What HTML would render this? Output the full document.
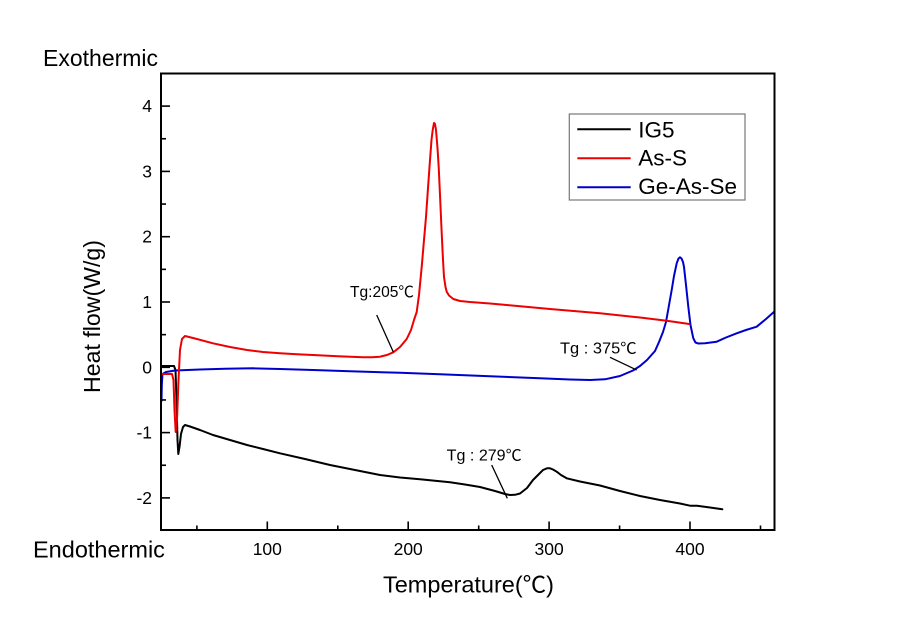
<!DOCTYPE html>
<html><head><meta charset="utf-8"><style>
html,body{margin:0;padding:0;background:#fff;}
svg{display:block;}
text{font-family:"Liberation Sans","Noto Sans CJK SC",sans-serif;fill:#000;}
</style></head><body>
<svg width="900" height="636" viewBox="0 0 900 636" xmlns="http://www.w3.org/2000/svg">
<rect x="0" y="0" width="900" height="636" fill="#fff"/>
<defs><clipPath id="pa"><rect x="161" y="73.5" width="613.5" height="456.5"/></clipPath></defs>

<!-- curves -->
<g clip-path="url(#pa)" fill="none" stroke-width="2" stroke-linejoin="round" stroke-linecap="round">
<polyline stroke="#000" points="161,366 174,366 175.5,370 176.5,400 177.5,440 178.3,454 179.5,447 181,434 183,427 185,425 190,426.5 200,430 213,435 230,440 247,445 263,449 280,453.3 305,459 330,465 355,470 380,475 400,477.5 420,479.3 450,482.3 465,484.5 480,487 495,491 505,494 510,495 515,494.8 520,493.5 527,488 533,480 538,475 543,470 547,468.3 550,468.3 553,469.5 556.7,471.7 561,475 566.7,478.3 580,481.5 600,485.5 620,491 640,496 660,500 680,503.5 690,505.7 697,505.7 710,507.5 722.3,509.3"/>
<polyline stroke="#0000cc" points="161.5,401 161.8,385 162.5,374 166,372 175,370.5 200,369.5 225,368.7 253,368.3 280,369 313,370 350,371.2 400,372.8 440,374.3 490,376.3 540,378.3 570,379.5 590,380 605,379.3 620,376 633,370.5 640,366 647,360 655,351 659,342 663,332 666,322 668.5,308 671.7,290 674,276 676.7,263.3 678.5,258.5 680,257.3 681.5,258.5 683,262 684,267 686,285 688.3,306.7 690.5,325 693.3,338.3 695.5,342.5 698.3,343.5 705,343.2 716.7,341.7 726,337.5 736.7,333.3 746,330 756.7,326.7 766,319 775,311"/>
<polyline stroke="#ee0000" points="161,374 172,374 173.5,380 174.5,410 175.7,432 177,420 178.5,380 180,350 182,339 185,336 195,338.5 213,343.3 230,347 247,350 263,352 280,353.3 297,354.3 313,355 338,356.2 363,357.3 372,357.3 380,356.7 387,355 393.3,352.3 400,347 406.7,339 411,330 414,320 416.7,312 419,295 421.7,267 424,240 426,217 428,188 430,160 431.5,140 432.7,130 434,123 435,124 436,130 437.5,148 438.7,167 440,195 441.7,233 443,260 444,277 445.5,287 446.7,291.7 449,295.5 453.3,299 460,301 470,302 490,303.5 506.7,305 550,309 600,313.3 640,317.5 666.7,320.7 689.3,324"/>
</g>

<!-- frame -->
<rect x="161" y="73.5" width="613.5" height="456.5" fill="none" stroke="#000" stroke-width="2"/>

<!-- ticks -->
<g stroke="#000" stroke-width="1.6">
<!-- y major -->
<line x1="161" y1="497.9" x2="170" y2="497.9"/>
<line x1="161" y1="432.6" x2="170" y2="432.6"/>
<line x1="161" y1="367.3" x2="170" y2="367.3"/>
<line x1="161" y1="302" x2="170" y2="302"/>
<line x1="161" y1="236.7" x2="170" y2="236.7"/>
<line x1="161" y1="171.4" x2="170" y2="171.4"/>
<line x1="161" y1="106.1" x2="170" y2="106.1"/>
<!-- y minor -->
<line x1="161" y1="465.25" x2="166" y2="465.25"/>
<line x1="161" y1="399.95" x2="166" y2="399.95"/>
<line x1="161" y1="334.65" x2="166" y2="334.65"/>
<line x1="161" y1="269.35" x2="166" y2="269.35"/>
<line x1="161" y1="204.05" x2="166" y2="204.05"/>
<line x1="161" y1="138.75" x2="166" y2="138.75"/>
<!-- x major -->
<line x1="267.3" y1="530" x2="267.3" y2="521.5"/>
<line x1="408.2" y1="530" x2="408.2" y2="521.5"/>
<line x1="549.1" y1="530" x2="549.1" y2="521.5"/>
<line x1="690" y1="530" x2="690" y2="521.5"/>
<!-- x minor -->
<line x1="196.9" y1="530" x2="196.9" y2="525.5"/>
<line x1="337.8" y1="530" x2="337.8" y2="525.5"/>
<line x1="478.7" y1="530" x2="478.7" y2="525.5"/>
<line x1="619.6" y1="530" x2="619.6" y2="525.5"/>
<line x1="760.5" y1="530" x2="760.5" y2="525.5"/>
</g>

<!-- tick labels -->
<g font-size="17.5" text-anchor="end">
<text x="152" y="503.9">-2</text>
<text x="152" y="438.6">-1</text>
<text x="152" y="373.3">0</text>
<text x="152" y="308">1</text>
<text x="152" y="242.7">2</text>
<text x="152" y="177.4">3</text>
<text x="152" y="112.1">4</text>
</g>
<g font-size="17.5" text-anchor="middle">
<text x="267.3" y="555">100</text>
<text x="408.2" y="555">200</text>
<text x="549.1" y="555">300</text>
<text x="690" y="555">400</text>
</g>

<!-- axis titles -->
<text x="43" y="66" font-size="23">Exothermic</text>
<text x="33" y="557.5" font-size="23.5">Endothermic</text>
<text transform="translate(100,316.5) rotate(-90)" text-anchor="middle" font-size="23" textLength="153" lengthAdjust="spacingAndGlyphs">Heat flow(W/g)</text>
<text x="383" y="592.7" font-size="23" textLength="171" lengthAdjust="spacingAndGlyphs">Temperature(℃)</text>

<!-- legend -->
<rect x="569.3" y="114" width="175.7" height="86" fill="#fff" stroke="#777" stroke-width="1.2"/>
<g stroke-width="2">
<line x1="577.3" y1="129.3" x2="630.7" y2="129.3" stroke="#000"/>
<line x1="577.3" y1="158.3" x2="630.7" y2="158.3" stroke="#ee0000"/>
<line x1="577.3" y1="187.3" x2="630.7" y2="187.3" stroke="#0000cc"/>
</g>
<g font-size="22.5">
<text x="638.3" y="137.3">IG5</text>
<text x="638.3" y="165.7">As-S</text>
<text x="638.3" y="194">Ge-As-Se</text>
</g>

<!-- annotations -->
<g stroke="#000" stroke-width="1.3">
<line x1="376.7" y1="315" x2="393.3" y2="352"/>
<line x1="610" y1="357.3" x2="636.7" y2="370"/>
<line x1="491.7" y1="465" x2="507.3" y2="498.3"/>
</g>
<g font-size="15.5">
<text x="350" y="297" textLength="64" lengthAdjust="spacingAndGlyphs">Tg:205℃</text>
<text x="560" y="353.3" textLength="76.7" lengthAdjust="spacingAndGlyphs">Tg : 375℃</text>
<text x="446.7" y="460.7" textLength="75" lengthAdjust="spacingAndGlyphs">Tg : 279℃</text>
</g>
</svg>
</body></html>
